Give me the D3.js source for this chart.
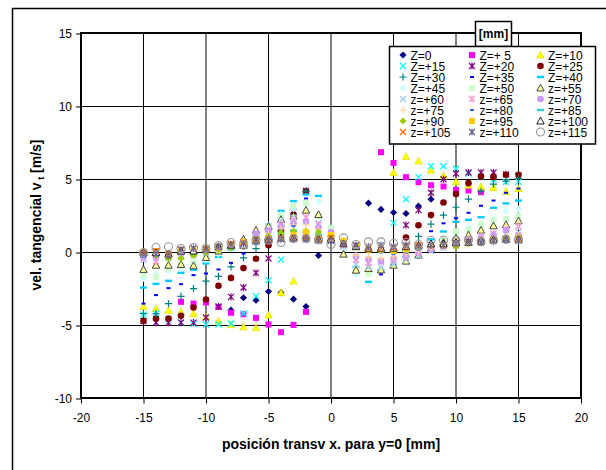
<!DOCTYPE html>
<html lang="es">
<head>
<meta charset="UTF-8">
<title>vel. tangencial</title>
<style>
  body { margin: 0; background: #fff; }
  text { font-family: "Liberation Sans", Arial, sans-serif; }
</style>
</head>
<body>
<script src="https://d3js.org/d3.v7.min.js"></script>
<div id="chart"></div>
<script>
// x positions [mm]
var posX = [-15,-14,-13,-12,-11,-10,-9,-8,-7,-6,-5,-4,-3,-2,-1,0,1,2,3,4,5,6,7,8,9,10,11,12,13,14,15];

// tangential velocity [m/s], one list per plane Z
var z0   = [null,null,null,null,null,null,null,-3.95,-3.1,-3.27,-2.67,-2.75,-3.2,-3.7,-0.2,null,null,null,3.38,2.95,2.74,2.67,3.17,3.65,null,null,null,null,null,null,null];
var z5   = [null,null,null,-3.38,-3.5,-3.42,-3.73,-4.13,-4.23,-4.48,-4.93,-5.46,-4.96,-4.07,null,null,null,null,null,6.87,6.14,5.16,4.82,4.61,4.52,4.29,4.25,4.13,null,null,null];
var z10  = [-3.7,-3.84,-3.97,-4.06,-4.2,-4.4,-4.7,-4.95,-5.09,-5.16,-4.29,-2.76,-1.96,null,null,null,null,null,null,null,5.48,6.58,6.26,5.64,5.25,4.84,4.6,4.5,4.45,4.18,4.38];
var z15  = [-4.25,-4.2,-4.6,-4.8,-4.9,-4.93,-4.93,-4.86,-4.18,-3.0,-1.9,-0.48,null,null,null,null,null,null,null,null,2.03,3.65,5.16,5.91,5.91,5.75,5.4,5.2,5.0,4.84,4.84];
var z20  = [-4.7,-4.8,-4.8,-4.8,-4.8,-4.45,-3.7,-3.04,-2.4,-1.4,-0.41,1.3,2.8,4.22,null,null,null,null,null,null,null,1.87,2.9,4.09,5.02,5.41,5.48,5.48,5.48,5.35,5.25];
var z25  = [-4.68,-4.52,-4.52,-4.34,-3.77,-3.22,-2.28,-1.74,-1.07,-0.43,0.5,1.5,2.6,4.2,null,null,null,null,null,null,null,1.03,1.87,2.56,3.42,4.0,4.75,5.2,5.16,5.32,5.32];
var z30  = [-4.18,-4.18,-3.5,-3.0,-2.47,-1.96,-1.64,-0.98,-0.37,0.27,0.9,1.8,3.0,4.2,null,null,null,null,null,null,null,null,1.1,1.94,2.56,3.1,3.65,4.2,4.68,4.89,5.07];
var z35  = [-3.5,-2.92,-2.44,-2.17,-1.55,-1.44,-1.16,-0.71,-0.07,0.6,1.3,2.0,3.0,3.7,null,null,null,null,null,-1.5,-0.9,-0.4,0.4,1.46,2.0,2.35,2.72,3.2,3.56,4.09,4.38];
var z40  = [-2.4,-2.15,-1.94,-1.39,-1.19,-0.75,-0.3,0.2,0.6,1.1,1.9,2.85,3.52,3.97,3.88,null,null,-1.0,-2.01,-1.2,-0.8,-0.3,0.4,0.9,1.44,2.1,2.24,2.42,3.06,3.36,3.56];
var z45  = [-1.78,-1.5,-1.26,-1.0,-0.8,-0.5,-0.1,0.3,0.7,1.2,1.9,2.6,3.0,3.31,3.47,1.2,0.3,-1.48,-1.2,-1.1,-0.7,-0.4,0.0,0.6,1.0,1.3,1.7,2.0,2.3,2.85,2.97];
var z50  = [-1.5,-1.67,-1.1,-0.9,-0.7,-0.4,0.0,0.4,0.8,1.2,1.7,2.5,3.2,3.4,2.5,1.69,0.5,-1.0,-1.48,-1.2,-0.9,-0.5,-0.1,0.4,0.9,1.44,1.58,1.9,2.2,2.3,2.5];
var z55  = [-1.16,-0.87,-0.87,-0.82,-0.91,-0.34,0.1,0.5,0.9,1.53,1.8,2.26,2.5,2.9,2.6,1.0,-0.11,-1.21,-1.1,-1.19,-0.87,-0.59,-0.18,0.3,0.7,1.0,1.2,1.53,1.83,1.9,2.17];
var z60  = [-0.5,-0.4,-0.4,-0.3,-0.2,0.0,0.2,0.4,0.6,1.1,1.6,2.2,2.4,2.4,2.0,1.2,0.4,-0.8,-1.0,-1.0,-0.8,-0.5,-0.2,0.1,0.3,0.5,0.7,0.9,1.1,1.3,1.4];
var z65  = [-0.4,-0.6,-0.3,-0.2,-0.1,0.1,0.3,0.5,0.7,1.2,1.5,1.9,2.2,2.4,1.9,1.1,0.5,-0.5,-0.7,-0.6,-0.5,-0.3,0.0,0.3,0.5,0.7,0.9,1.1,1.3,1.6,1.8];
var z70  = [-0.3,-0.3,-0.2,-0.1,0.0,0.1,0.3,0.5,0.7,1.3,1.5,1.8,2.0,2.1,1.7,1.4,0.6,-0.3,-0.5,-0.6,-0.4,-0.2,0.0,0.2,0.4,0.6,0.8,1.0,1.2,1.5,1.2];
var z75  = [-0.2,-0.2,-0.1,0.0,0.1,0.2,0.3,0.5,0.7,0.9,1.3,1.6,1.9,1.9,1.6,1.0,0.6,-0.2,-0.3,-0.4,-0.3,-0.1,0.1,0.3,0.4,0.6,0.8,0.9,1.0,1.1,1.2];
var z80  = [-0.3,-0.2,-0.1,0.0,0.1,0.2,0.3,0.5,0.6,0.8,1.2,1.5,1.8,1.4,1.3,1.0,0.8,0.3,0.1,0.0,-0.1,0.0,0.2,0.4,0.5,0.7,0.8,0.9,1.0,1.0,1.0];
var z85  = [-0.2,-0.1,0.0,0.1,0.1,0.2,0.4,0.5,0.7,0.9,1.1,1.3,1.5,1.4,1.2,1.1,0.7,0.3,0.2,0.1,0.0,0.1,0.3,0.4,0.5,0.6,0.7,0.8,0.9,1.0,1.1];
var z90  = [-0.1,-0.2,-0.4,-0.4,-0.2,0.0,0.2,0.3,0.6,0.9,1.1,1.35,1.45,1.45,1.4,1.1,0.8,0.4,0.2,0.2,0.2,0.3,0.4,0.5,0.5,0.4,0.6,0.7,0.8,0.9,1.0];
var z95  = [0.0,0.1,-0.1,0.1,0.2,0.2,0.3,0.5,0.7,0.8,1.0,1.0,1.2,1.4,1.0,1.2,0.8,0.4,0.2,0.2,0.1,0.2,0.4,0.5,0.5,0.6,0.7,0.8,0.9,1.0,1.0];
var z100 = [0.0,0.0,-0.1,0.1,0.1,0.2,0.4,0.5,0.5,0.8,0.9,1.0,1.0,1.0,0.9,0.9,0.6,0.4,0.3,0.3,0.3,0.4,0.5,0.6,0.6,0.7,0.7,0.8,0.9,0.9,0.9];
var z105 = [0.0,0.1,-0.1,0.2,0.3,0.3,0.4,0.6,0.7,0.9,0.9,1.0,1.0,1.0,0.9,1.0,0.6,0.5,0.3,0.3,0.3,0.4,0.5,0.5,0.5,0.6,0.7,0.7,0.8,0.9,0.9];
var z110 = [-0.1,-0.1,-0.2,0.2,0.3,0.2,0.4,0.5,0.6,0.8,0.8,0.9,0.9,0.9,0.8,0.8,0.6,0.5,0.4,0.5,0.4,0.5,0.4,0.5,0.5,0.6,0.7,0.7,0.8,0.9,0.8];
var z115 = [0.0,0.34,0.39,0.27,0.34,0.27,0.46,0.68,0.5,0.84,0.84,0.68,0.96,0.96,0.9,0.55,1.0,0.55,0.73,0.73,0.62,0.68,0.55,0.84,0.84,0.84,0.84,0.73,0.84,0.9,0.9];

var seriesNames = ["Z=0","Z=+ 5","Z=+10","Z=+15","Z=+20","Z=+25","Z=+30","Z=+35","Z=+40","Z=+45","Z=+50","z=+55",
                   "z=+60","z=+65","z=+70","z=+75","z=+80","z=+85","z=+90","z=+95","z=+100","z=+105","z=+110","z=+115"];
var seriesVals = [z0,z5,z10,z15,z20,z25,z30,z35,z40,z45,z50,z55,z60,z65,z70,z75,z80,z85,z90,z95,z100,z105,z110,z115];

var xTicks = [-20,-15,-10,-5,0,5,10,15,20];
var yTicks = [-10,-5,0,5,10,15];

// marker style per series (Excel default order)
var markerShape = ["diamond","square","triangle","cross","star","circle","plus","dashS","dashL",
                   "diamond","square","triangle","cross","star","circle","plus","dashS","dashL",
                   "diamond","square","triangle","cross","star","ring"];
var markerColor = ["#000080","#FF00FF","#FFFF00","#00FFFF","#800080","#800000","#008080","#0000FF","#00CCFF",
                   "#CCFFFF","#CCFFCC","#FFFF99","#99CCFF","#FF99CC","#CC99FF","#FFCC99","#3366FF","#33CCCC",
                   "#99CC00","#FFCC00","#FFFFFF","#FF6600","#666699","#969696"];
var markerEdge = { 11: "#333333", 20: "#000000" };

var W = 606, H = 470;
var svg = d3.select("#chart").append("svg")
    .attr("width", W).attr("height", H)
    .style("display", "block");

svg.append("rect").attr("width", W).attr("height", H).attr("fill", "#fff");

// outer chart frame (continues past the picture on right/bottom)
svg.append("path")
    .attr("d", "M12.5,470V8.5H606")
    .attr("fill", "none").attr("stroke", "#000").attr("stroke-width", 1.5);

var x = d3.scaleLinear().domain([-20, 20]).range([81, 581]);
var y = d3.scaleLinear().domain([-10, 15]).range([398.5, 33.5]);

// gridlines
svg.append("g").selectAll("line")
    .data(xTicks.slice(1, -1)).enter().append("line")
    .attr("x1", function (d) { return x(d); }).attr("x2", function (d) { return x(d); })
    .attr("y1", y(15)).attr("y2", y(-10))
    .attr("stroke", "#000").attr("stroke-width", 1);
svg.append("g").selectAll("line")
    .data(yTicks.slice(1, -1)).enter().append("line")
    .attr("x1", x(-20)).attr("x2", x(20))
    .attr("y1", function (d) { return y(d); }).attr("y2", function (d) { return y(d); })
    .attr("stroke", "#000").attr("stroke-width", 1);

// axes (plain hyphen for negatives, like the original)
var plain = function (d) { return String(d); };
var yAxis = svg.append("g")
    .attr("transform", "translate(" + x(-20) + ",0)")
    .call(d3.axisLeft(y).tickValues(yTicks).tickFormat(plain).tickSize(5).tickSizeOuter(0).tickPadding(4));
var xAxis = svg.append("g")
    .attr("transform", "translate(0," + y(-10) + ")")
    .call(d3.axisBottom(x).tickValues(xTicks).tickFormat(plain).tickSize(5).tickSizeOuter(0).tickPadding(10));
[xAxis, yAxis].forEach(function (a) {
    a.select(".domain").remove();
    a.selectAll("line").attr("stroke", "#000");
    a.selectAll("text").attr("font-size", 12).attr("fill", "#000")
        .style("font-family", "'Liberation Sans', Arial, sans-serif");
});

// plot border
svg.append("rect")
    .attr("x", x(-20)).attr("y", 33)
    .attr("width", x(20) - x(-20)).attr("height", 365)
    .attr("fill", "none").attr("stroke", "#000").attr("stroke-width", 2);

function drawMarker(g, i) {
    var shape = markerShape[i], c = markerColor[i], edge = markerEdge[i];
    if (shape === "diamond") {
        g.append("path").attr("d", "M0,-3.6L3.6,0L0,3.6L-3.6,0Z").attr("fill", c);
    } else if (shape === "square") {
        g.append("rect").attr("x", -3).attr("y", -3).attr("width", 6).attr("height", 6).attr("fill", c);
    } else if (shape === "triangle") {
        g.append("path").attr("d", "M0,-3.8L3.7,3L-3.7,3Z").attr("fill", c)
            .attr("stroke", edge || "#D8D800").attr("stroke-width", edge ? 0.9 : 0.6);
    } else if (shape === "cross") {
        g.append("path").attr("d", "M-3,-3L3,3M3,-3L-3,3").attr("stroke", c).attr("stroke-width", 1.3);
    } else if (shape === "star") {
        g.append("path").attr("d", "M-3,-3L3,3M3,-3L-3,3M0,-3.6V3.6").attr("stroke", c).attr("stroke-width", 1.2);
    } else if (shape === "circle") {
        g.append("circle").attr("r", 3.3).attr("fill", c);
    } else if (shape === "plus") {
        g.append("path").attr("d", "M-3.6,0H3.6M0,-3.6V3.6").attr("stroke", c).attr("stroke-width", 1.2);
    } else if (shape === "dashS") {
        g.append("rect").attr("x", -2).attr("y", -1).attr("width", 4).attr("height", 2).attr("fill", c);
    } else if (shape === "dashL") {
        g.append("rect").attr("x", -3.5).attr("y", -1.2).attr("width", 7).attr("height", 2.4).attr("fill", c);
    } else if (shape === "ring") {
        g.append("circle").attr("r", 4).attr("fill", "none").attr("stroke", c).attr("stroke-width", 1.1);
    }
}

// points, series in order so later planes sit on top
var marks = svg.append("g");
seriesVals.forEach(function (vals, i) {
    var pts = posX.map(function (px, k) { return { x: px, v: vals[k] }; })
        .filter(function (d) { return d.v !== null; });
    marks.append("g").selectAll("g")
        .data(pts).enter().append("g")
        .attr("transform", function (d) { return "translate(" + x(d.x) + "," + y(d.v) + ")"; })
        .each(function () { drawMarker(d3.select(this), i); });
});

// [mm] tag
svg.append("rect").attr("x", 475.5).attr("y", 21.5).attr("width", 36).attr("height", 25)
    .attr("fill", "#fff").attr("stroke", "#000").attr("stroke-width", 1.5);
svg.append("text").attr("x", 493.5).attr("y", 38).attr("text-anchor", "middle")
    .attr("font-size", 12).attr("font-weight", "bold").text("[mm]");

// legend
var leg = svg.append("g");
leg.append("rect").attr("x", 389.5).attr("y", 46.5).attr("width", 206).attr("height", 97.5)
    .attr("fill", "#fff").attr("stroke", "#000").attr("stroke-width", 1.5);
var colX = [403, 472, 540.5];
seriesNames.forEach(function (name, i) {
    var col = i % 3, row = Math.floor(i / 3);
    var cy = 55 + row * 11;
    var g = leg.append("g").attr("transform", "translate(" + colX[col] + "," + cy + ")");
    drawMarker(g, i);
    leg.append("text").attr("x", colX[col] + 7.5).attr("y", cy + 4.5)
        .attr("font-size", 12).text(name);
});

// axis titles
svg.append("text").attr("x", 331).attr("y", 449).attr("text-anchor", "middle")
    .attr("font-size", 14).attr("font-weight", "bold")
    .text("posición transv x. para y=0 [mm]");
var yt = svg.append("text")
    .attr("transform", "translate(41,215) rotate(-90)")
    .attr("text-anchor", "middle").attr("font-size", 14).attr("font-weight", "bold");
yt.append("tspan").text("vel. tangencial v");
yt.append("tspan").attr("font-size", 9).attr("dy", 3).text(" t");
yt.append("tspan").attr("dy", -3).text(" [m/s]");
</script>
</body>
</html>
